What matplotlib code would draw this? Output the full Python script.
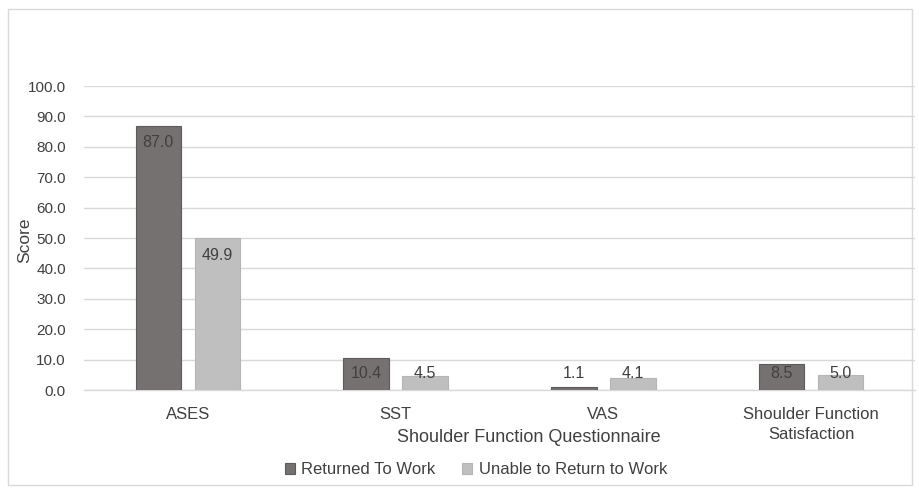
import numpy as np
import matplotlib
matplotlib.use('Agg')
import matplotlib.pyplot as plt
from matplotlib.patches import Rectangle

# dane
categories = ['ASES', 'SST', 'VAS', 'Shoulder Function\nSatisfaction']
returned = [87.0, 10.4, 1.1, 8.5]
unable = [49.9, 4.5, 4.1, 5.0]
series_names = ['Returned To Work', 'Unable to Return to Work']
yticks = np.arange(0, 101, 10)

plt.rcParams['font.family'] = ['Liberation Sans Narrow', 'Liberation Sans', 'DejaVu Sans']

W, H = 919, 493
fig = plt.figure(figsize=(W / 100, H / 100), dpi=100)
fig.patch.set_facecolor('white')

# ramka wokol calego wykresu
fig.patches.append(Rectangle((8 / W, 1 - 485 / H), 904 / W, 476 / H,
                             transform=fig.transFigure, fill=False,
                             edgecolor='#d9d9d9', linewidth=1))

ax = fig.add_axes([84 / W, 1 - 390 / H, 831 / W, 304 / H])

x = np.arange(len(categories))
bw = 0.22
off = 0.142
dark = '#767171'
light = '#bfbfbf'

b1 = ax.bar(x - off, returned, bw, color=dark, edgecolor='#5f5a5a', linewidth=0.8,
            label=series_names[0], zorder=3)
b2 = ax.bar(x + off, unable, bw, color=light, edgecolor='#b5b5b5', linewidth=0.8,
            label=series_names[1], zorder=3)

# etykiety danych (inside end, jak w Excelu)
for xs, vals in ((x - off, returned), (x + off, unable)):
    for xi, v in zip(xs, vals):
        ax.text(xi, max(v - 5.5, 5.3), f'{v:.1f}', ha='center', va='center',
                fontsize=11.5, color='#404040', zorder=4)

ax.set_xlim(-0.5, len(categories) - 0.5)
ax.set_ylim(0, 100)
ax.set_yticks(yticks)
ax.set_yticklabels([f'{t:.1f}' for t in yticks])
ax.set_xticks(x)
ax.set_xticklabels(categories, linespacing=1.45)
ax.yaxis.grid(True, color='#d9d9d9', linewidth=1, zorder=0)
ax.set_axisbelow(True)
for s in ['top', 'right', 'left']:
    ax.spines[s].set_visible(False)
ax.spines['bottom'].set_color('#d9d9d9')
ax.spines['bottom'].set_linewidth(1)
ax.tick_params(axis='y', length=0, pad=13, labelsize=11, labelcolor='#404040')
ax.tick_params(axis='x', length=0, pad=12, labelsize=12, labelcolor='#404040')

fig.text(25 / W, 1 - 240 / H, 'Score', rotation=90, ha='center', va='center',
         fontsize=12.5, color='#404040')
fig.text(529 / W, 1 - 438 / H, 'Shoulder Function Questionnaire', ha='center',
         va='center', fontsize=13, color='#404040')

leg = fig.legend(handles=[b1, b2], labels=series_names, loc='center',
                 bbox_to_anchor=(476 / W, 1 - 470 / H), ncol=2, frameon=False,
                 handlelength=0.6, handleheight=0.6, handletextpad=0.4,
                 columnspacing=1.6, fontsize=12)
for t in leg.get_texts():
    t.set_color('#404040')

fig.savefig('out.png', dpi=100)
